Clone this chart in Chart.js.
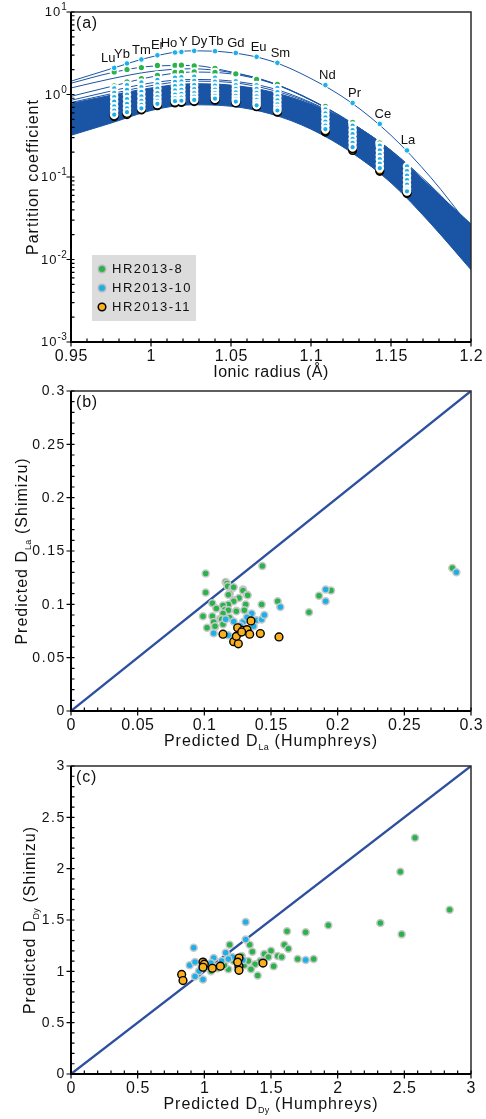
<!DOCTYPE html>
<html>
<head>
<meta charset="utf-8">
<title>Partition coefficients</title>
<script src="https://cdn.jsdelivr.net/npm/chart.js@4/dist/chart.umd.min.js"></script>
<style>
  body { margin: 0; background: #fff; }
  #page { position: relative; width: 486px; height: 1119px; overflow: hidden; }
  canvas { position: absolute; left: 0; }
</style>
</head>
<body>
<div id="page">
  <canvas id="chartA" width="486" height="385" style="top:0"></canvas>
  <canvas id="chartB" width="486" height="375" style="top:385px"></canvas>
  <canvas id="chartC" width="486" height="359" style="top:760px"></canvas>
</div>
<script>
const FONT = "'Liberation Sans', Arial, sans-serif";
const GREEN = '#2ab24b', CYAN = '#1cb0eb', ORANGE = '#fbb11e';
const BLUE = '#1a55a5', DIAG = '#2c4f9e', HALO = '#c8c8c8';

/* ---------- panel (a): partition coefficients vs ionic radius ---------- */
const groups = ['HR2013-8', 'HR2013-10', 'HR2013-11'];
const elements = ['Lu','Yb','Tm','Er','Ho','Y','Dy','Tb','Gd','Eu','Sm','Nd','Pr','Ce','La'];
const radii = [0.977, 0.985, 0.994, 1.004, 1.015, 1.019, 1.027, 1.040, 1.053, 1.066, 1.079, 1.109, 1.126, 1.143, 1.160];

// labelled HR2013-10 analysis (top curve)
const dTop10 = [2.1, 2.38, 2.66, 2.99, 3.23, 3.28, 3.38, 3.35, 3.19, 2.86, 2.42, 1.30, 0.79, 0.44, 0.21];

// HR2013-8 (green), per element
const d8 = [[1.88,1.27],[2.01,1.42],[2.12,1.56],[2.25,1.71],[2.26,1.85],[2.27,1.85],[2.22,1.88],[2.07,1.85],
            [1.78],[1.53],[1.33],[0.72],[0.46],[0.26],[]];
// HR2013-10 (cyan), per element
const d10 = [
  [1.19,1.05,0.93,0.82,0.72,0.64,0.57],
  [1.30,1.14,1.00,0.88,0.77,0.68,0.61],
  [1.40,1.23,1.08,0.95,0.84,0.75,0.68],
  [1.50,1.33,1.18,1.04,0.93,0.84,0.77],
  [1.60,1.42,1.26,1.12,1.00,0.90,0.83],
  [1.62,1.44,1.28,1.14,1.02,0.92,0.84],
  [1.65,1.46,1.30,1.16,1.04,0.94,0.86],
  [1.60,1.43,1.28,1.15,1.04,0.96,0.89],
  [1.45,1.30,1.17,1.06,0.96,0.88,0.82],
  [1.30,1.17,1.05,0.95,0.86,0.79,0.74],
  [1.20,1.07,0.95,0.85,0.76,0.69,0.64],
  [0.66,0.59,0.53,0.47,0.42,0.38],
  [0.42,0.37,0.33,0.29,0.26,0.23],
  [0.24,0.21,0.185,0.165,0.145,0.128],
  [0.135,0.118,0.104,0.092,0.081,0.072,0.067]
];
// HR2013-11 (orange), per element
const d11 = [[0.54,0.56],[0.57,0.59],[0.65,0.66],[0.73,0.75],[0.79,0.81],[0.80,0.82],[0.82,0.84],[0.85,0.87],
             [0.79,0.80],[0.71,0.72],[0.61,0.62],[0.35,0.36],[0.21,0.22],[0.117,0.12],[0.063,0.065]];

const fitR  = [0.95, 0.975, 1.0, 1.025, 1.05, 1.075, 1.1, 1.125, 1.15, 1.175, 1.2];
const fitA  = [1.45, 2.05, 2.85, 3.38, 3.22, 2.55, 1.56, 0.80, 0.32, 0.098, 0.024];
const fitB  = [1.37, 1.83, 2.20, 2.25, 1.88, 1.40, 0.86, 0.46, 0.20, 0.072, 0.022];
const fitC  = [0.95, 1.25, 1.63, 1.87, 1.78, 1.38, 0.85, 0.45, 0.19, 0.070, 0.021];
const fitD  = [1.20, 1.55, 1.90, 2.05, 1.85, 1.40, 0.86, 0.45, 0.19, 0.068, 0.020];
const fitE  = [0.85, 1.10, 1.38, 1.52, 1.46, 1.20, 0.80, 0.45, 0.21, 0.078, 0.025];
const fitF  = [0.80, 1.02, 1.28, 1.45, 1.40, 1.14, 0.78, 0.44, 0.20, 0.075, 0.025];
const bandHigh = [0.78, 0.98, 1.20, 1.35, 1.30, 1.08, 0.76, 0.45, 0.21, 0.075, 0.027];
const bandLow  = [0.32, 0.45, 0.64, 0.75, 0.72, 0.58, 0.38, 0.20, 0.085, 0.027, 0.0075];

const xTicksA = [0.95, 1, 1.05, 1.1, 1.15, 1.2];
const yTicksA = [0.001, 0.01, 0.1, 1, 10];

/* ---------- panel (b): D La, Humphreys vs Shimizu ---------- */
const la8 = [[0.101,0.129],[0.101,0.111],[0.1435,0.136],[0.116,0.121],[0.117,0.1195],[0.1175,0.117],[0.121,0.115],
  [0.122,0.116],[0.129,0.114],[0.129,0.113],[0.132,0.109],[0.1325,0.1085],[0.119,0.110],[0.118,0.109],[0.126,0.106],
  [0.122,0.104],[0.122,0.103],[0.106,0.101],[0.118,0.0998],[0.131,0.0998],[0.143,0.0998],[0.114,0.099],[0.109,0.096],
  [0.1155,0.095],[0.118,0.0944],[0.124,0.094],[0.124,0.0935],[0.130,0.0944],[0.099,0.0888],[0.106,0.0888],[0.114,0.0913],
  [0.112,0.0866],[0.113,0.086],[0.119,0.0875],[0.107,0.0834],[0.102,0.078],[0.108,0.0788],[0.108,0.0794],[0.114,0.0813],
  [0.155,0.103],[0.186,0.108],[0.195,0.113],[0.1785,0.0925],[0.286,0.134]];
const la10 = [[0.107,0.073],[0.118,0.071],[0.122,0.084],[0.129,0.0834],[0.1355,0.0913],[0.139,0.085],[0.143,0.0857],
  [0.137,0.0794],[0.132,0.088],[0.127,0.080],[0.116,0.086],[0.145,0.090],[0.157,0.0975],[0.191,0.114],[0.191,0.103],[0.289,0.130]];
const la11 = [[0.114,0.072],[0.122,0.065],[0.1255,0.063],[0.124,0.070],[0.125,0.078],[0.129,0.0757],[0.132,0.0763],
  [0.134,0.072],[0.135,0.0844],[0.142,0.0726],[0.156,0.0694],[0.128,0.074]];
const xTicksB = [0, 0.05, 0.1, 0.15, 0.2, 0.25, 0.3];
const oneToOneB = [0, 0.3];

/* ---------- panel (c): D Dy, Humphreys vs Shimizu ---------- */
const dy8 = [[2.58,2.30],[2.47,1.97],[2.84,1.60],[2.48,1.36],[2.32,1.47],[1.93,1.45],[1.76,1.38],[1.62,1.39],
  [1.19,1.26],[1.34,1.26],[1.36,1.19],[1.40,0.96],[1.45,1.17],[1.42,1.10],[1.50,1.20],[1.55,1.15],[1.60,1.26],
  [1.63,1.22],[1.70,1.12],[1.82,1.12],[1.52,1.05],[1.48,1.14],[1.30,1.06],[1.25,1.03],[1.18,1.02],[1.10,1.03],
  [1.05,1.00],[1.33,1.10],[1.38,1.07],[1.28,1.15],[1.15,1.06],[1.22,1.10],[1.35,1.02],[1.44,1.09],[1.58,1.14]];
const dy10 = [[1.31,1.48],[0.92,1.23],[0.89,1.06],[0.93,1.09],[0.96,1.00],[0.93,0.95],[0.99,0.92],[1.07,1.13],
  [1.16,1.18],[1.21,1.14],[1.31,1.31],[1.29,1.11],[1.76,1.11],[1.10,1.05],[1.02,1.04],[0.98,1.06],[1.13,1.10],
  [1.25,1.08],[1.05,1.08],[1.18,1.12]];
const dy11 = [[0.83,0.97],[0.84,0.91],[0.99,1.09],[1.00,1.07],[0.99,1.04],[1.06,1.03],[1.12,1.05],[1.26,1.13],
  [1.26,1.05],[1.26,1.01],[1.25,1.09],[1.44,1.08]];
const xTicksC = [0, 0.5, 1, 1.5, 2, 2.5, 3];
const oneToOneC = [0, 3];

/* ---------- helpers ---------- */
const pairs = list => list.map(p => ({ x: p[0], y: p[1] }));
const column = lists => {
  const out = [];
  lists.forEach((vals, i) => vals.forEach(v => out.push({ x: radii[i], y: v })));
  return out;
};
const minorLin = (min, max, step) => {
  const out = [], n = Math.round((max - min) / step);
  for (let i = 1; i < n; i++) out.push(min + i * step);
  return out;
};
const minorLog = (lo, hi) => {
  const out = [];
  for (let d = lo; d < hi * 0.999; d *= 10) for (let k = 2; k <= 9; k++) out.push(k * d);
  return out;
};

function setFont(ctx, size, sp) {
  ctx.font = size + 'px ' + FONT;
  ctx.letterSpacing = sp + 'px';
}

// text with sub/superscript pieces, centred on (x, baseline y)
function richText(ctx, parts, x, y, vertical) {
  ctx.save();
  ctx.translate(x, y);
  if (vertical) ctx.rotate(-Math.PI / 2);
  ctx.textAlign = 'left';
  ctx.textBaseline = 'alphabetic';
  let w = 0;
  parts.forEach(p => { setFont(ctx, p.s, p.sp); w += ctx.measureText(p.t).width; });
  let cx = -w / 2;
  parts.forEach(p => {
    setFont(ctx, p.s, p.sp);
    ctx.fillText(p.t, cx, p.dy || 0);
    cx += ctx.measureText(p.t).width;
  });
  ctx.restore();
}

function dot(ctx, x, y, r, bg, border, bw) {
  ctx.beginPath();
  ctx.arc(x, y, r, 0, Math.PI * 2);
  ctx.fillStyle = bg;
  ctx.fill();
  ctx.lineWidth = bw;
  ctx.strokeStyle = border;
  ctx.stroke();
}

// axes box, tick marks, tick labels and titles
function framePlugin(f) {
  return {
    id: 'frame',
    afterDraw(chart) {
      const ctx = chart.ctx, a = chart.chartArea;
      const xs = chart.scales.x, ys = chart.scales.y;
      ctx.save();
      ctx.lineWidth = 1.5;
      ctx.strokeStyle = '#2a2a2a';
      ctx.beginPath();
      ctx.moveTo(a.left, a.top); ctx.lineTo(a.right, a.top); ctx.lineTo(a.right, a.bottom);
      ctx.stroke();
      ctx.lineWidth = 2;
      ctx.strokeStyle = '#000';
      ctx.beginPath();
      ctx.moveTo(a.left, a.top); ctx.lineTo(a.left, a.bottom); ctx.lineTo(a.right, a.bottom);
      ctx.stroke();

      ctx.lineWidth = 1.2;
      ctx.beginPath();
      f.xMinor.forEach(v => { const p = xs.getPixelForValue(v); ctx.moveTo(p, a.bottom); ctx.lineTo(p, a.bottom - 3.5); });
      f.xTicks.forEach(v => { const p = xs.getPixelForValue(v); ctx.moveTo(p, a.bottom - 3.5); ctx.lineTo(p, a.bottom + 4.5); });
      f.yMinor.forEach(v => { const p = ys.getPixelForValue(v); ctx.moveTo(a.left, p); ctx.lineTo(a.left + 3.5, p); });
      f.yTicks.forEach(v => { const p = ys.getPixelForValue(v); ctx.moveTo(a.left - 4.5, p); ctx.lineTo(a.left + 3.5, p); });
      ctx.stroke();

      ctx.fillStyle = '#111';
      ctx.textAlign = 'center';
      ctx.textBaseline = 'alphabetic';
      setFont(ctx, 16, 0.5);
      f.xTicks.forEach(v => ctx.fillText(String(v), xs.getPixelForValue(v) + 0.25, a.bottom + 18.5));

      if (f.logY) {
        ctx.textAlign = 'right';
        ctx.textBaseline = 'middle';
        f.yTicks.forEach(v => {
          const p = ys.getPixelForValue(v);
          const e = Math.round(Math.log10(v));
          const sup = e < 0 ? '-' + (-e) : String(e);
          setFont(ctx, 10, 0.3);
          ctx.fillText(sup, a.left - 4, p - 4.5);
          const sw = ctx.measureText(sup).width;
          setFont(ctx, 13, 1);
          ctx.fillText('10', a.left - 4 - sw, p + 0.5);
        });
      } else {
        ctx.textAlign = 'right';
        ctx.textBaseline = 'middle';
        setFont(ctx, 14, 1.6);
        f.yTicks.forEach(v => ctx.fillText(String(v), a.left - 5, ys.getPixelForValue(v) + 0.5));
      }

      ctx.textAlign = 'left';
      setFont(ctx, 16, 0.8);
      ctx.fillText(f.tag, a.left + 5, a.top + 12);
      richText(ctx, f.xTitle, (a.left + a.right) / 2, a.bottom + 35, false);
      richText(ctx, f.yTitle, f.yTitleX, (a.top + a.bottom) / 2, true);
      ctx.restore();
    }
  };
}

// element names and legend for panel (a)
const labelNudge = [-6, -5, 0, 0, -6, 2, 5, 1, 0, 2, 3, 2, 2, 3, 1];
const legendMarks = [
  { bg: GREEN, border: '#b8b8b8', bw: 1.5, r: 3.8 },
  { bg: CYAN, border: '#b8b8b8', bw: 1.5, r: 3.8 },
  { bg: ORANGE, border: '#000', bw: 1.5, r: 3.8 }
];
const panelAExtras = {
  id: 'panelA',
  afterDraw(chart) {
    const ctx = chart.ctx, a = chart.chartArea;
    const xs = chart.scales.x, ys = chart.scales.y;
    ctx.save();
    ctx.fillStyle = '#111';
    ctx.textAlign = 'center';
    ctx.textBaseline = 'middle';
    setFont(ctx, 13, 0);
    elements.forEach((el, i) => {
      ctx.fillText(el, xs.getPixelForValue(radii[i]) + labelNudge[i], ys.getPixelForValue(dTop10[i]) - 9.5);
    });

    ctx.fillStyle = '#dcdcdc';
    ctx.fillRect(a.left + 21, a.top + 243, 104, 66);
    groups.forEach((g, i) => {
      const m = legendMarks[i];
      const cy = a.top + 257 + i * 19;
      dot(ctx, a.left + 31, cy, m.r, m.bg, m.border, m.bw);
      ctx.fillStyle = '#111';
      ctx.textAlign = 'left';
      ctx.textBaseline = 'middle';
      setFont(ctx, 13, 1.5);
      ctx.fillText(g, a.left + 41, cy + 0.5);
    });
    ctx.restore();
  }
};

const fitLine = (vals, extra) => Object.assign({
  data: fitR.map((r, i) => ({ x: r, y: vals[i] })),
  showLine: true, borderColor: BLUE, borderWidth: 1, pointRadius: 0,
  cubicInterpolationMode: 'monotone', fill: false, order: 9
}, extra || {});

const pointSet = (data, bg, border, bw, r, order) => ({
  data, showLine: false, order,
  pointRadius: r, pointBackgroundColor: bg, pointBorderColor: border, pointBorderWidth: bw
});

function makeChart(id, c) {
  return new Chart(document.getElementById(id), {
    type: 'line',
    data: { datasets: c.datasets },
    options: {
      responsive: false,
      animation: false,
      events: [],
      layout: { autoPadding: false, padding: { top: c.padTop, right: 15, bottom: 0, left: 0 } },
      plugins: { legend: { display: false }, tooltip: { enabled: false } },
      scales: {
        x: {
          type: 'linear', min: c.x[0], max: c.x[1],
          grid: { display: false, drawTicks: false }, border: { display: false }, ticks: { display: false },
          afterFit: s => { s.height = c.xHeight; }
        },
        y: {
          type: c.yType || 'linear', min: c.y[0], max: c.y[1],
          grid: { display: false, drawTicks: false }, border: { display: false }, ticks: { display: false },
          afterFit: s => { s.width = 71; }
        }
      }
    },
    plugins: [framePlugin(c.frame)].concat(c.extra || [])
  });
}

/* (a) */
makeChart('chartA', {
  padTop: 12, xHeight: 43, x: [0.95, 1.2], y: [0.001, 10], yType: 'logarithmic',
  datasets: [
    fitLine(bandHigh, { order: 10 }),
    fitLine(bandLow, { order: 10, fill: '-1', backgroundColor: BLUE }),
    fitLine(fitF), fitLine(fitE), fitLine(fitD), fitLine(fitC), fitLine(fitB), fitLine(fitA),
    pointSet(column(d11), ORANGE, '#000', 1.5, 3.8, 5),
    pointSet(column(d8), GREEN, '#fff', 2, 3.6, 4),
    pointSet(column(d10), CYAN, '#fff', 2.2, 3.2, 3),
    pointSet(radii.map((r, i) => ({ x: r, y: dTop10[i] })), CYAN, '#fff', 1, 2.8, 2)
  ],
  frame: {
    tag: '(a)', logY: true,
    xTicks: xTicksA, xMinor: minorLin(0.95, 1.2, 0.01),
    yTicks: yTicksA, yMinor: minorLog(0.001, 10),
    xTitle: [{ t: 'Ionic radius (Å)', s: 16, sp: 0.5 }],
    yTitle: [{ t: 'Partition coefficient', s: 16, sp: 1 }],
    yTitleX: 38
  },
  extra: [panelAExtras]
});

/* (b) */
makeChart('chartB', {
  padTop: 6, xHeight: 49, x: [0, 0.3], y: [0, 0.3],
  datasets: [
    { data: oneToOneB.map(v => ({ x: v, y: v })), showLine: true, borderColor: DIAG, borderWidth: 2.3, pointRadius: 0, order: 10 },
    pointSet(pairs(la8), GREEN, HALO, 1.5, 3.5, 4),
    pointSet(pairs(la10), CYAN, HALO, 1.5, 3.5, 3),
    pointSet(pairs(la11), ORANGE, '#000', 1.4, 3.9, 2)
  ],
  frame: {
    tag: '(b)',
    xTicks: xTicksB, xMinor: minorLin(0, 0.3, 0.01),
    yTicks: xTicksB, yMinor: minorLin(0, 0.3, 0.01),
    xTitle: [{ t: 'Predicted D', s: 16, sp: 1 }, { t: 'La', s: 9, sp: 0.3, dy: 4 }, { t: ' (Humphreys)', s: 16, sp: 1 }],
    yTitle: [{ t: 'Predicted D', s: 16, sp: 1 }, { t: 'La', s: 9, sp: 0.3, dy: 4 }, { t: ' (Shimizu)', s: 16, sp: 1 }],
    yTitleX: 27
  }
});

/* (c) */
makeChart('chartC', {
  padTop: 6, xHeight: 45, x: [0, 3], y: [0, 3],
  datasets: [
    { data: oneToOneC.map(v => ({ x: v, y: v })), showLine: true, borderColor: DIAG, borderWidth: 2.3, pointRadius: 0, order: 10 },
    pointSet(pairs(dy8), GREEN, HALO, 1.5, 3.5, 4),
    pointSet(pairs(dy10), CYAN, HALO, 1.5, 3.5, 3),
    pointSet(pairs(dy11), ORANGE, '#000', 1.4, 3.9, 2)
  ],
  frame: {
    tag: '(c)',
    xTicks: xTicksC, xMinor: minorLin(0, 3, 0.1),
    yTicks: xTicksC, yMinor: minorLin(0, 3, 0.1),
    xTitle: [{ t: 'Predicted D', s: 16, sp: 1 }, { t: 'Dy', s: 9, sp: 0.3, dy: 4 }, { t: ' (Humphreys)', s: 16, sp: 1 }],
    yTitle: [{ t: 'Predicted D', s: 16, sp: 1 }, { t: 'Dy', s: 9, sp: 0.3, dy: 4 }, { t: ' (Shimizu)', s: 16, sp: 1 }],
    yTitleX: 35
  }
});
</script>
</body>
</html>
